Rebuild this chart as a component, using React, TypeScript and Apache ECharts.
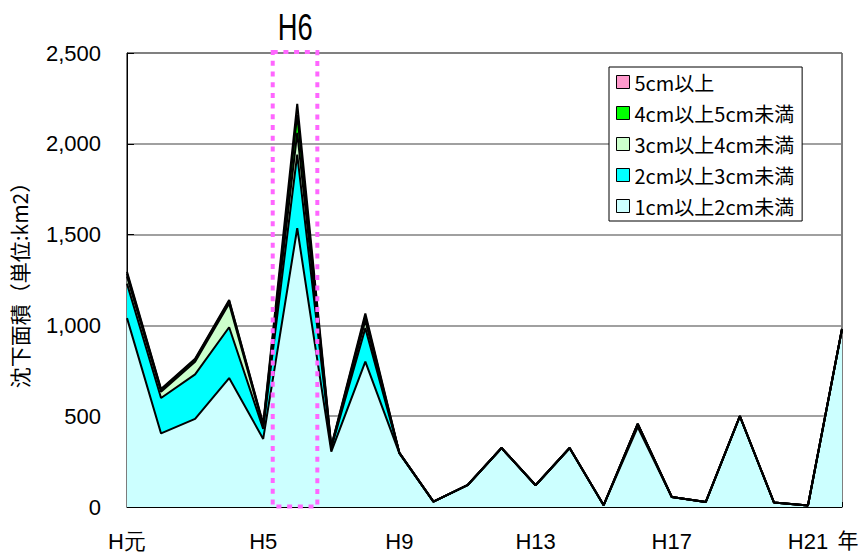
import React, { useEffect, useRef } from "react";
import * as echarts from "echarts";

const categories = ["H元", "H2", "H3", "H4", "H5", "H6", "H7", "H8", "H9", "H10", "H11", "H12", "H13", "H14", "H15", "H16", "H17", "H18", "H19", "H20", "H21", "H22"];

const seriesNames = ["1cm以上2cm未満", "2cm以上3cm未満", "3cm以上4cm未満", "4cm以上5cm未満", "5cm以上"];
const seriesColors = ["#CCFFFF", "#00FFFF", "#CCFFCC", "#00FF00", "#FF99CC"];

const layer1 = [1040, 405, 485, 710, 375, 1535, 305, 800, 295, 30, 120, 325, 120, 325, 10, 440, 55, 28, 500, 25, 8, 980];
const layer2 = [190, 195, 245, 280, 55, 405, 20, 185, 3, 0, 0, 0, 0, 0, 0, 18, 0, 0, 0, 0, 0, 0];
const layer3 = [40, 35, 70, 130, 15, 120, 5, 40, 0, 0, 0, 0, 0, 0, 0, 0, 0, 0, 0, 0, 0, 0];
const layer4 = [15, 10, 12, 15, 8, 100, 3, 25, 0, 0, 0, 0, 0, 0, 0, 0, 0, 0, 0, 0, 0, 0];
const layer5 = [10, 5, 5, 5, 5, 60, 2, 15, 0, 0, 0, 0, 0, 0, 0, 0, 0, 0, 0, 0, 0, 0];

const yTicks = { min: 0, max: 2500, interval: 500 };
const yAxisName = "沈下面積（単位:km2）";
const xAxisUnit = "年";
const highlightLabel = "H6";

const SANS = "'Liberation Sans', Arial, sans-serif";
const JP = "'Noto Sans CJK JP', sans-serif";

export default function App() {
  const ref = useRef<HTMLDivElement>(null);
  useEffect(() => {
    if (!ref.current) return;
    const chart = echarts.init(ref.current, undefined, { renderer: "svg" });
    const layers = [layer1, layer2, layer3, layer4, layer5];
    chart.setOption({
      animation: false,
      backgroundColor: "#ffffff",
      grid: { left: 122, right: 17, top: 53, bottom: 51, show: true, borderColor: "#000", borderWidth: 1, backgroundColor: "transparent" },
      legend: {
        orient: "vertical",
        left: 609,
        top: 67,
        backgroundColor: "#ffffff",
        borderColor: "#000",
        borderWidth: 1,
        padding: [5, 8, 5, 7],
        itemGap: 11,
        itemWidth: 13,
        itemHeight: 13,
        icon: "rect",
        itemStyle: { borderColor: "#000", borderWidth: 1 },
        textStyle: { fontSize: 20, fontFamily: JP, color: "#000", lineHeight: 20 },
        data: seriesNames
          .map((n, i) => ({ name: n, itemStyle: { color: seriesColors[i], borderColor: "#000", borderWidth: 1 } }))
          .reverse(),
        z: 10,
      },
      xAxis: {
        type: "category",
        data: categories,
        boundaryGap: false,
        axisLine: { lineStyle: { color: "#000", width: 1 } },
        axisTick: { show: true, inside: true, length: 5, interval: 0, lineStyle: { color: "#000" } },
        axisLabel: { interval: 3, fontSize: 22, fontFamily: SANS, color: "#000", margin: 23 },
        splitLine: { show: false },
      },
      yAxis: {
        type: "value",
        min: yTicks.min,
        max: yTicks.max,
        interval: yTicks.interval,
        name: yAxisName,
        nameLocation: "middle",
        nameRotate: 90,
        nameGap: 98,
        nameTextStyle: { fontSize: 21, fontFamily: JP, color: "#000" },
        axisLine: { show: true, lineStyle: { color: "#000", width: 1 } },
        axisTick: { show: true, inside: true, length: 7, lineStyle: { color: "#000" } },
        axisLabel: {
          fontSize: 22,
          fontFamily: SANS,
          color: "#000",
          margin: 26,
          formatter: (v: number) => v.toLocaleString("en-US"),
        },
        splitLine: { show: true, lineStyle: { color: "#808080", width: 1.5 } },
      },
      series: layers.map((d, i) => ({
        name: seriesNames[i],
        type: "line",
        stack: "total",
        data: d,
        symbol: "none",
        itemStyle: { color: seriesColors[i] },
        lineStyle: { color: "#000", width: 2 },
        areaStyle: { color: seriesColors[i], opacity: 1 },
        z: 2,
      })),
    });

    const xH6 = chart.convertToPixel({ xAxisIndex: 0 }, highlightLabel) as number;
    const x0 = chart.convertToPixel({ xAxisIndex: 0 }, categories[0]) as number;
    const x1 = chart.convertToPixel({ xAxisIndex: 0 }, categories[1]) as number;
    const xLast = chart.convertToPixel({ xAxisIndex: 0 }, categories[categories.length - 1]) as number;
    const step = x1 - x0;
    const yTop = chart.convertToPixel({ yAxisIndex: 0 }, yTicks.max) as number;
    const yBot = chart.convertToPixel({ yAxisIndex: 0 }, 0) as number;

    chart.setOption({
      graphic: [
        {
          type: "rect",
          z: 20,
          shape: { x: xH6 - 0.72 * step, y: yTop - 1, width: 1.31 * step, height: yBot - yTop + 0.5 },
          style: { fill: "none", stroke: "#FF66FF", lineWidth: 4, lineDash: [5, 5.7] },
        },
        {
          type: "text",
          z: 20,
          x: xH6 - 2,
          y: yTop - 26,
          scaleX: 0.74,
          style: { text: highlightLabel, font: `37px ${SANS}`, fill: "#000", align: "center", verticalAlign: "middle" },
        },
        {
          type: "text",
          z: 20,
          x: xLast + 6,
          y: yBot + 32,
          style: { text: xAxisUnit, font: `21px ${JP}`, fill: "#000", align: "center", verticalAlign: "middle" },
        },
      ],
    });

    return () => chart.dispose();
  }, []);
  return <div ref={ref} style={{ position: "fixed", left: 0, top: 0, width: 859, height: 558 }} />;
}
